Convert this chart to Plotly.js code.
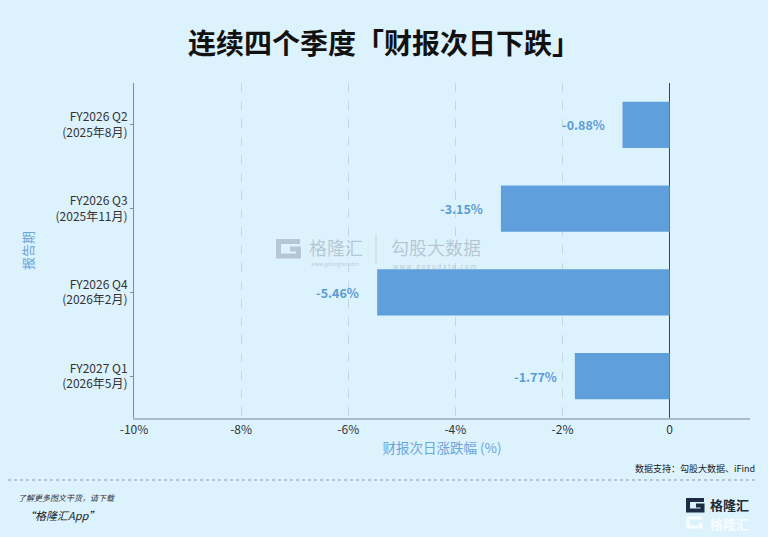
<!DOCTYPE html>
<html><head><meta charset="utf-8">
<script src="https://cdn.plot.ly/plotly-3.0.1.min.js"></script>
<style>html,body{margin:0;padding:0;background:#dcf2fd;}#c{width:768px;height:537px;}</style>
</head><body><div id="c"></div>
<script>
const categories = ["FY2026 Q2<br>(2025年8月)", "FY2026 Q3<br>(2025年11月)", "FY2026 Q4<br>(2026年2月)", "FY2027 Q1<br>(2026年5月)"];
const values = [-0.88, -3.15, -5.46, -1.77];
const labels = ["-0.88%", "-3.15%", "-5.46%", "-1.77%"];
const xTickVals = [-10, -8, -6, -4, -2, 0];
const xTickText = ["-10%", "-8%", "-6%", "-4%", "-2%", "0"];

const font = "Noto Sans CJK SC, Noto Sans, sans-serif";
const W = 768, H = 537, L = 134, R = 18, T = 83, B = 119;
const PW = W - L - R, PH = H - T - B;
const fx = px => (px - L) / PW;
const fy = py => (H - B - py) / PH;
const path = pts => pts.map((p, i) => (i ? "L" : "M") + fx(p[0]).toFixed(4) + "," + fy(p[1]).toFixed(4)).join(" ");

const trace = {
  type: "bar", orientation: "h",
  y: categories, x: values,
  marker: {color: "#5f9fdb"},
  width: 0.55, hoverinfo: "none"
};
const wm = "rgba(128,138,150,0.42)";
const barLabels = values.map((v, i) => ({
  x: v, y: categories[i], xref: "x", yref: "y", xanchor: "right", yanchor: "middle",
  xshift: -16, showarrow: false, text: "<b>" + labels[i] + "</b>",
  font: {size: 12.5, color: "#5b9bd5", family: font}
}));
const layout = {
  width: W, height: H,
  paper_bgcolor: "#dcf2fd", plot_bgcolor: "#dcf2fd",
  margin: {l: L, r: R, t: T, b: B},
  showlegend: false,
  font: {family: font},
  title: {text: "<b>连续四个季度「财报次日下跌」</b>", x: 0.5, xanchor: "center", y: 0.917, yanchor: "middle",
          font: {size: 28, color: "#111", family: font}},
  xaxis: {range: [-10, 1.5], tickvals: xTickVals, ticktext: xTickText,
          showgrid: true, gridcolor: "#c3d6e2", griddash: "dash", gridwidth: 1,
          zeroline: true, zerolinecolor: "#444", zerolinewidth: 1.2,
          showline: true, linecolor: "#a9bccb", linewidth: 1.5,
          ticks: "", tickfont: {size: 12, color: "#333", family: font},
          title: {text: "财报次日涨跌幅 (%)", font: {size: 13.5, color: "#6aa5dc", family: font}, standoff: 6}},
  yaxis: {autorange: "reversed", showline: true, linecolor: "#7d8e9b", linewidth: 1,
          ticks: "outside", ticklen: 3, tickcolor: "#7d8e9b", showgrid: false,
          tickfont: {size: 12, color: "#333", family: font},
          title: {text: "报告期", font: {size: 13, color: "#6aa5dc", family: font}, standoff: 18}},
  shapes: [
    {type: "line", xref: "paper", yref: "paper", x0: fx(8), x1: fx(757), y0: fy(480), y1: fy(480),
     line: {color: "#8a9aa6", width: 1, dash: "dot"}},
    {type: "path", xref: "paper", yref: "paper", path: path([[300, 241.5], [278.5, 241.5], [278.5, 256], [298.5, 256], [298.5, 249], [290, 249]]),
     line: {color: wm, width: 5}},
    {type: "line", xref: "paper", yref: "paper", x0: fx(376), x1: fx(376), y0: fy(234), y1: fy(264),
     line: {color: "rgba(150,160,170,0.35)", width: 1}},
    {type: "path", xref: "paper", yref: "paper", path: path([[704, 500], [688, 500], [688, 510.5], [702.5, 510.5], [702.5, 505.5], [696, 505.5]]),
     line: {color: "#1f2b45", width: 4}},
    {type: "path", xref: "paper", yref: "paper", path: path([[702, 518], [688, 518], [688, 527], [701, 527], [701, 523]]),
     line: {color: "rgba(255,255,255,0.8)", width: 3}}
  ],
  annotations: barLabels.concat([
    {xref: "paper", yref: "paper", x: fx(757), y: fy(469), xanchor: "right", yanchor: "middle", showarrow: false,
     text: "数据支持：勾股大数据、iFind", font: {size: 9, color: "#222", family: font}},
    {xref: "paper", yref: "paper", x: fx(16), y: fy(497), xanchor: "left", yanchor: "middle", showarrow: false,
     text: "<i>了解更多图文干货，请下载</i>", font: {size: 8, color: "#333", family: font}},
    {xref: "paper", yref: "paper", x: fx(22), y: fy(515), xanchor: "left", yanchor: "middle", showarrow: false,
     text: "<i>“格隆汇App”</i>", font: {size: 11, color: "#222", family: font}},
    {xref: "paper", yref: "paper", x: fx(708), y: fy(504), xanchor: "left", yanchor: "middle", showarrow: false,
     text: "<b>格隆汇</b>", font: {size: 13, color: "#1e2a36", family: font}},
    {xref: "paper", yref: "paper", x: fx(708), y: fy(523), xanchor: "left", yanchor: "middle", showarrow: false,
     text: "<b>格隆汇</b>", font: {size: 13, color: "rgba(255,255,255,0.8)", family: font}},
    {xref: "paper", yref: "paper", x: fx(307), y: fy(247), xanchor: "left", yanchor: "middle", showarrow: false,
     text: "格隆汇", font: {size: 18, color: wm, family: font}},
    {xref: "paper", yref: "paper", x: fx(309), y: fy(264), xanchor: "left", yanchor: "middle", showarrow: false,
     text: "www.gelonghui.com", font: {size: 5, color: wm, family: font}},
    {xref: "paper", yref: "paper", x: fx(389), y: fy(247), xanchor: "left", yanchor: "middle", showarrow: false,
     text: "勾股大数据", font: {size: 18, color: wm, family: font}},
    {xref: "paper", yref: "paper", x: fx(391), y: fy(266), xanchor: "left", yanchor: "middle", showarrow: false,
     text: "w w w . g o g u d a t a . c o m", font: {size: 6.5, color: wm, family: font}}
  ])
};
Plotly.newPlot("c", [trace], layout, {displayModeBar: false, staticPlot: true});
</script></body></html>
